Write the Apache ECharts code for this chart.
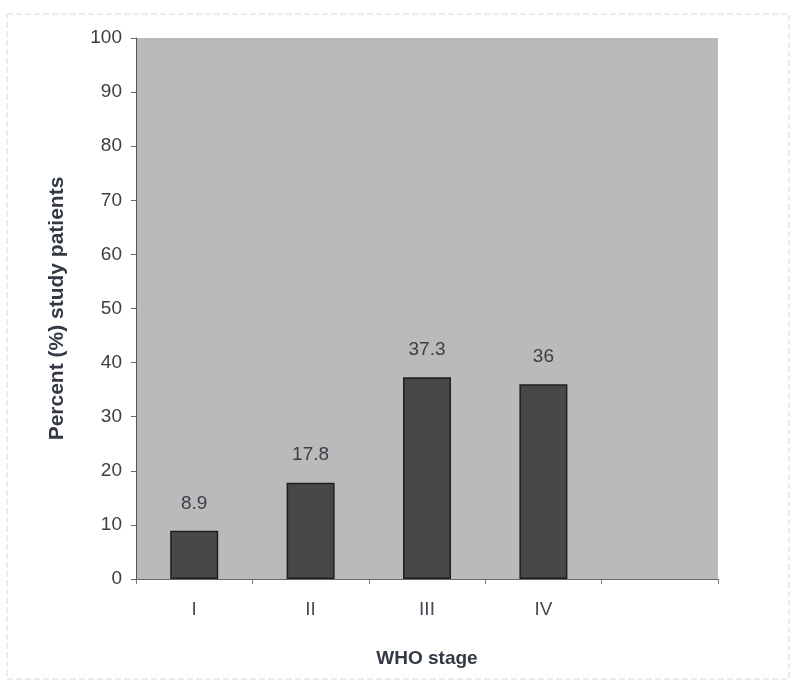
<!DOCTYPE html>
<html><head><meta charset="utf-8">
<script src="https://cdn.jsdelivr.net/npm/echarts@6/dist/echarts.min.js"></script>
<style>html,body{margin:0;padding:0;background:#fff}#c{width:797px;height:684px}</style>
</head><body><div id="c"></div>
<script>
var categories = ['I', 'II', 'III', 'IV', ''];
var values = [8.9, 17.8, 37.3, 36, null];
var yTicks = [0, 10, 20, 30, 40, 50, 60, 70, 80, 90, 100];

var chart = echarts.init(document.getElementById('c'));
chart.setOption({
  animation: false,
  backgroundColor: '#ffffff',
  graphic: [{
    type: 'rect', shape: {x: 7, y: 14, width: 782, height: 665},
    style: {fill: 'none', stroke: '#d8d8d8', lineWidth: 1, lineDash: [6, 3]}
  }],
  grid: {left: 136, right: 79, top: 38, bottom: 105, show: true, backgroundColor: '#bababa', borderWidth: 0},
  xAxis: {
    type: 'category', data: categories,
    name: 'WHO stage', nameLocation: 'middle', nameGap: 70,
    nameTextStyle: {fontFamily: 'Liberation Sans', fontWeight: 'bold', fontSize: 19, color: '#333a44'},
    axisLine: {lineStyle: {color: '#6a6a6a', width: 1}},
    axisTick: {show: true, length: 5, lineStyle: {color: '#7a7a7a'}},
    axisLabel: {fontFamily: 'Liberation Sans', fontSize: 19, color: '#444a52', margin: 21}
  },
  yAxis: {
    type: 'value', min: 0, max: 100, interval: 10,
    name: 'Percent (%) study patients', nameLocation: 'middle', nameGap: 68, nameRotate: 90,
    nameTextStyle: {fontFamily: 'Liberation Sans', fontWeight: 'bold', fontSize: 21, color: '#333a44'},
    axisLine: {show: true, lineStyle: {color: '#555', width: 1}},
    axisTick: {show: true, length: 5, lineStyle: {color: '#666'}},
    splitLine: {show: false},
    axisLabel: {fontFamily: 'Liberation Sans', fontSize: 19, color: '#3a4048', margin: 14,
      formatter: function (v) { return yTicks.indexOf(v) >= 0 ? String(v) : ''; }}
  },
  series: [{
    type: 'bar', data: values, barWidth: 48,
    itemStyle: {color: '#48484a', borderColor: '#1e1e1e', borderWidth: 1.5},
    label: {show: true, position: 'top', distance: 18, fontFamily: 'Liberation Sans', fontSize: 19, color: '#3a4048'}
  }]
});
</script></body></html>
